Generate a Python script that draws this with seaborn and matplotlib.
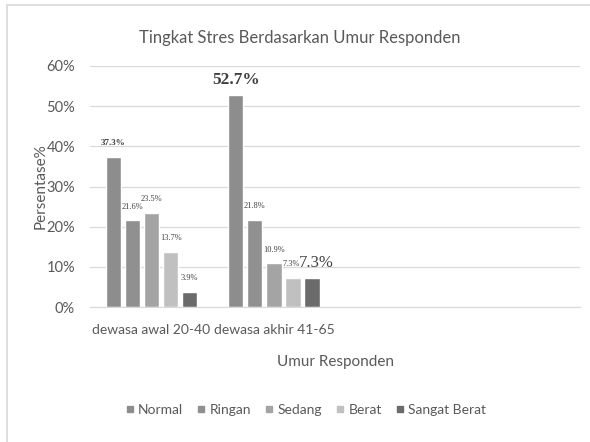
import numpy as np
import pandas as pd
import matplotlib.pyplot as plt
import matplotlib.patches as mpatches
from matplotlib.lines import Line2D
import seaborn as sns

age_groups = ['dewasa awal 20-40', 'dewasa akhir 41-65']
levels = ['Normal', 'Ringan', 'Sedang', 'Berat', 'Sangat Berat']
awal = [37.3, 21.6, 23.5, 13.7, 3.9]
akhir = [52.7, 21.8, 10.9, 7.3, 7.3]
level_colors = ['#8d8d8d', '#909090', '#a4a4a4', '#c0c0c0', '#6b6b6b']

df = pd.DataFrame({
    'Umur': [age_groups[0]] * 5 + [age_groups[1]] * 5,
    'Tingkat': levels * 2,
    'Persen': awal + akhir,
})

sns.set_style('white')
plt.rcParams['font.family'] = ['Lato', 'DejaVu Sans']
txt = '#595959'

fig = plt.figure(figsize=(5.9, 4.42), dpi=100)
ax = fig.add_axes([0.153, 0.305, 0.83, 0.546])

sns.barplot(data=df, x='Umur', y='Persen', hue='Tingkat', order=age_groups,
            hue_order=levels, palette=level_colors, width=0.78, gap=0.2,
            saturation=1, ax=ax, legend=False)

ax.set_xlim(-0.5, 3.5)
ax.set_ylim(0, 60)
ax.set_yticks(np.arange(0, 61, 10))
ax.set_yticklabels([f'{v}%' for v in range(0, 61, 10)], color=txt, fontsize=10.5)
ax.set_xticks([0, 1])
ax.set_xticklabels(age_groups, color=txt, fontsize=10)
ax.tick_params(axis='y', length=0, pad=11)
ax.tick_params(axis='x', length=0, pad=12)
ax.yaxis.grid(True, color='#d9d9d9', linewidth=0.9)
ax.set_axisbelow(True)
for s in ['top', 'right', 'left']:
    ax.spines[s].set_visible(False)
ax.spines['bottom'].set_color('#d9d9d9')

ax.set_xlabel('Umur Responden', color=txt, fontsize=11, labelpad=14)
ax.set_ylabel('Persentase%', color=txt, fontsize=11)
ax.yaxis.set_label_coords(-0.088, 0.5)
fig.text(300 / 590, 1 - 38 / 442, 'Tingkat Stres Berdasarkan Umur Responden',
         color=txt, fontsize=12, ha='center', va='center')

# data labels (small serif, a few enlarged as in the original)
serif = ['Liberation Serif', 'DejaVu Serif']
label_style = {
    (0, 0): (6.5, 'bold', 0, 7),
    (1, 0): (12.5, 'bold', 0, 5),
    (1, 3): (6, 'normal', -1, 7),
    (1, 4): (12, 'normal', 3, 5),
}
for j, bars in enumerate(ax.containers):
    for i, bar in enumerate(bars):
        h = bar.get_height()
        if np.isnan(h):
            continue
        size, weight, dx, dy = label_style.get((i, j), (6, 'normal', 0, 7))
        ax.annotate(f'{h:.1f}%', (bar.get_x() + bar.get_width() / 2, h),
                    xytext=(dx, dy), textcoords='offset points', ha='center',
                    va='bottom', fontsize=size, fontweight=weight,
                    color='#404040', family=serif)

handles = [Line2D([], [], marker='s', linestyle='', markersize=5, color=c)
           for c in level_colors]
fig.legend(handles, levels, loc='center', bbox_to_anchor=(306 / 590, 1 - 410 / 442),
           ncol=5, frameon=False, fontsize=10, labelcolor=txt,
           handlelength=0.6, handletextpad=0.3, columnspacing=1.0)

fig.patches.append(mpatches.Rectangle((7 / 590, -0.1), 1.2, 1 - 5 / 442 + 0.1,
                                      transform=fig.transFigure, fill=False,
                                      edgecolor='#d9d9d9', linewidth=1.2))

fig.savefig('out.png', dpi=100)
